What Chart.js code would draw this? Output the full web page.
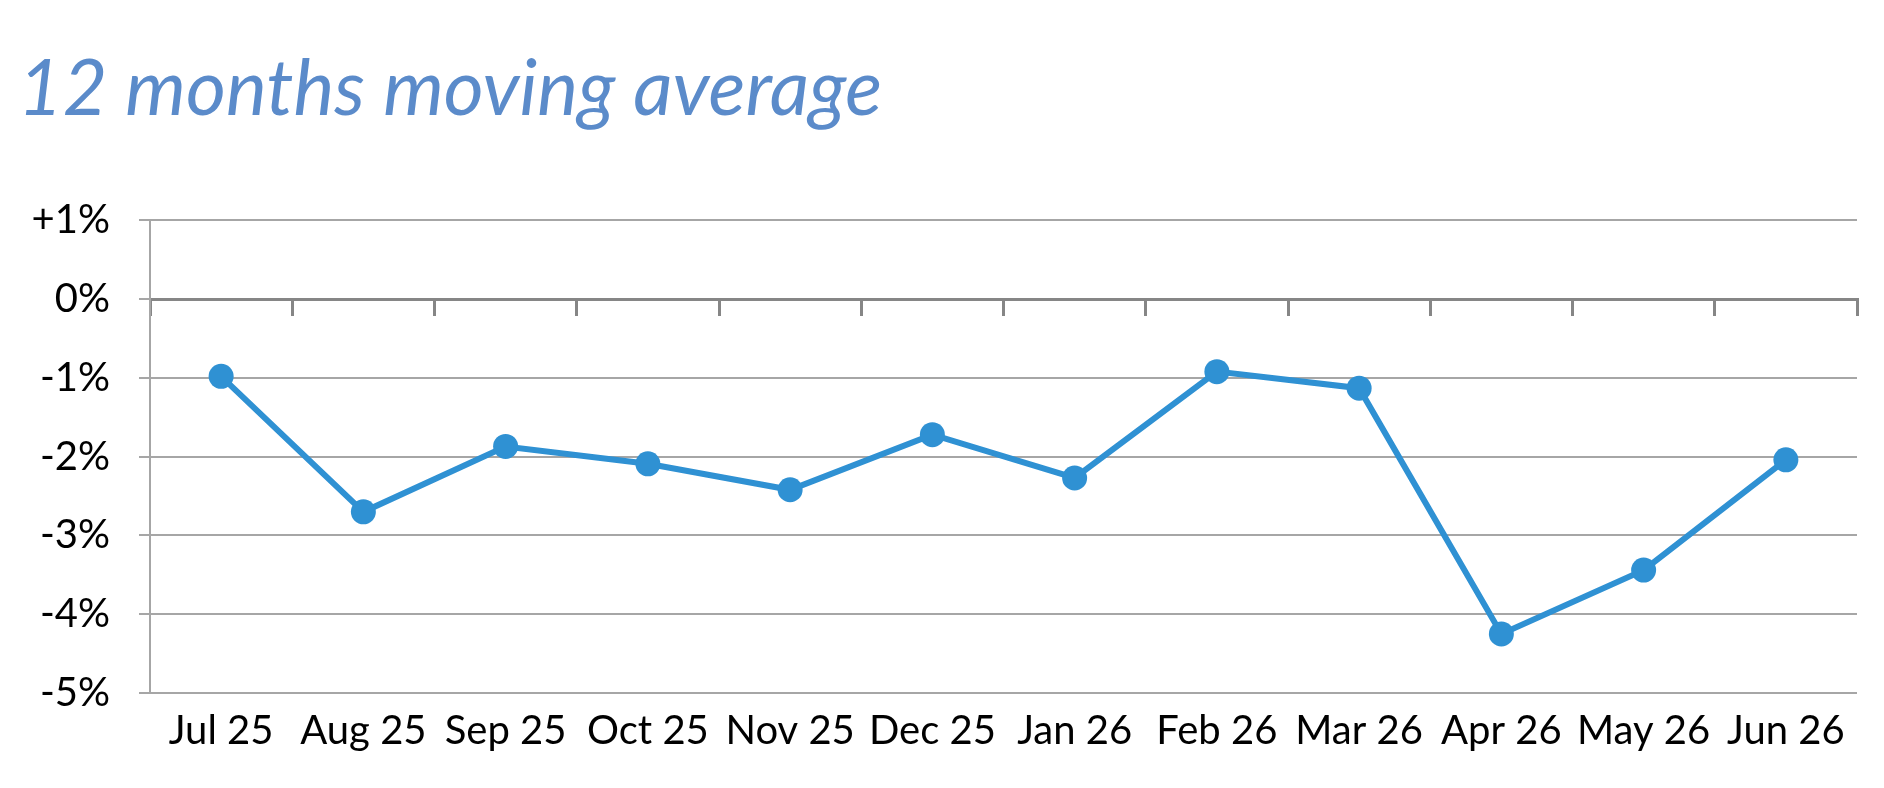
<!DOCTYPE html>
<html>
<head>
<meta charset="utf-8">
<script src="https://cdn.jsdelivr.net/npm/chart.js@4/dist/chart.umd.min.js"></script>
<style>
  html, body { margin: 0; padding: 0; background: #fff; }
  #wrap { width: 1884px; height: 788px; }
</style>
</head>
<body>
<div id="wrap"><canvas id="chartAvg"></canvas></div>
<script>
// chart data
const months = ["Jul 25","Aug 25","Sep 25","Oct 25","Nov 25","Dec 25","Jan 26","Feb 26","Mar 26","Apr 26","May 26","Jun 26"];
const movingAvg = [-0.98, -2.70, -1.87, -2.09, -2.42, -1.72, -2.27, -0.92, -1.13, -4.25, -3.44, -2.04];
const yTicks = [1, 0, -1, -2, -3, -4, -5];

const lineBlue = '#2f91d3';
const gridGrey = '#a6a6a6';
const zeroGrey = '#868686';
const tickFont = { family: 'Lato', size: 40 };

function pctLabel(v) {
  return (v > 0 ? '+' : '') + v + '%';
}

const ctx = document.getElementById('chartAvg').getContext('2d');
const chartAvg = new Chart(ctx, {
  type: 'line',
  data: {
    labels: months,
    datasets: [{
      label: '12 months moving average',
      data: movingAvg,
      borderColor: lineBlue,
      backgroundColor: lineBlue,
      borderWidth: 6,
      pointRadius: 12.5,
      pointBackgroundColor: lineBlue,
      pointBorderColor: lineBlue,
      pointBorderWidth: 0,
      tension: 0
    }]
  },
  options: {
    responsive: true,
    maintainAspectRatio: false,
    animation: false,
    layout: { padding: { left: 18, right: 27, top: 0, bottom: 27 } },
    plugins: {
      legend: { display: false },
      tooltip: { enabled: false },
      title: {
        display: true,
        text: '12 months moving average',
        align: 'start',
        color: '#5b8bca',
        font: { family: 'Lato', size: 77, style: 'italic', weight: 'normal' },
        padding: { top: 44, bottom: 84 }
      }
    },
    scales: {
      x: {
        type: 'category',
        position: 'bottom',
        offset: true,
        grid: { display: false },
        border: { display: false },
        ticks: { color: '#000', font: tickFont, padding: 6, maxRotation: 0, autoSkip: false }
      },
      x2: {
        type: 'category',
        labels: months,
        position: { y: 0 },
        offset: true,
        grid: { offset: true, drawOnChartArea: false, drawTicks: true, tickLength: 15, color: zeroGrey, lineWidth: 3 },
        border: { display: true, color: zeroGrey, width: 3 },
        ticks: { display: false }
      },
      y: {
        min: -5,
        max: 1,
        afterFit: s => { s.width = 132; },
        afterBuildTicks: s => { s.ticks = yTicks.map(v => ({ value: v })); },
        grid: {
          color: gridGrey,
          lineWidth: 2,
          drawTicks: true,
          tickLength: 11
        },
        border: { display: true, color: gridGrey, width: 2 },
        ticks: { color: '#000', font: tickFont, padding: 29, callback: v => pctLabel(v) }
      }
    }
  }
});
</script>
</body>
</html>
